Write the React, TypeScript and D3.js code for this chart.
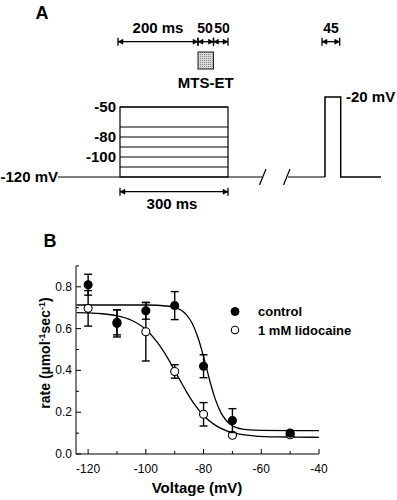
import React from "react";
import * as d3 from "d3";

// ---- panel B data ----
const voltages = [-120, -110, -100, -90, -80, -70, -50];
const controlRate = [0.81, 0.625, 0.685, 0.71, 0.42, 0.16, 0.1];
const controlErr = [0.05, 0.065, 0.04, 0.067, 0.055, 0.057, 0.012];
const lidoRate = [0.697, 0.63, 0.585, 0.395, 0.19, 0.09, 0.092];
const lidoErr = [0.085, 0.06, 0.14, 0.032, 0.056, 0.006, 0.008];

// fitted curves, points
const controlFitV = [-124, -100, -92, -88, -86, -84, -82, -80, -79, -78, -76, -74, -72, -70, -67, -64, -60, -50, -40];
const controlFitY = [0.713, 0.713, 0.707, 0.69, 0.667, 0.627, 0.56, 0.466, 0.413, 0.359, 0.265, 0.198, 0.158, 0.135, 0.12, 0.115, 0.113, 0.112, 0.112];
const lidoFitV = [-124, -120, -115, -110, -105, -100, -96, -92, -90, -89, -86, -83, -80, -76, -72, -68, -62, -55, -48, -40];
const lidoFitY = [0.676, 0.675, 0.671, 0.661, 0.64, 0.596, 0.534, 0.449, 0.399, 0.374, 0.3, 0.235, 0.184, 0.138, 0.111, 0.096, 0.086, 0.082, 0.081, 0.08];

const xTicks = [-120, -100, -80, -60, -40];
const xMinor = [-110, -90, -70, -50];
const yTicks = [0, 0.2, 0.4, 0.6, 0.8];
const yMinor = [0.1, 0.3, 0.5, 0.7, 0.9];

// ---- panel A protocol ----
const stepLevels = [-110, -100, -90, -80, -70, -50];
const stepLabels = [-50, -80, -100];
const segmentMs = [0, 200, 250, 300];
const segmentLabels = ["200 ms", "50", "50"];
const testPulseMs = [0, 45];

const FONT = "'Liberation Sans', Arial, sans-serif";

function DimArrow({ x1, x2, y }: { x1: number; x2: number; y: number }) {
  const h = 4;
  const aw = Math.min(5, (x2 - x1) / 2.5);
  return (
    <g stroke="#000" strokeWidth={1.3} fill="#000">
      <line x1={x1} x2={x2} y1={y} y2={y} />
      <line x1={x1} x2={x1} y1={y - h} y2={y + h} />
      <line x1={x2} x2={x2} y1={y - h} y2={y + h} />
      <path d={`M${x1},${y}L${x1 + aw},${y - 2.5}L${x1 + aw},${y + 2.5}Z`} strokeWidth={0.5} />
      <path d={`M${x2},${y}L${x2 - aw},${y - 2.5}L${x2 - aw},${y + 2.5}Z`} strokeWidth={0.5} />
    </g>
  );
}

function PanelA() {
  const t = d3.scaleLinear().domain(segmentMs).range([118, 198, 213.5, 228]);
  const tt = d3.scaleLinear().domain([0, 45]).range([325, 340.7]);
  const v = d3.scaleLinear().domain([-120, -50, -20]).range([177, 107, 97]);
  const base = v(-120);
  const bold = { fontFamily: FONT, fontWeight: 700, fontSize: 15 } as const;
  return (
    <g>
      <text x={42} y={19} style={{ ...bold, fontSize: 18 }} textAnchor="middle">A</text>
      {segmentMs.slice(1).map((ms, i) => (
        <g key={ms}>
          <DimArrow x1={t(segmentMs[i])} x2={t(ms)} y={41.7} />
          <text
            x={i === 0 ? 158 : i === 1 ? 205 : 222}
            y={33}
            textAnchor="middle"
            style={{ ...bold, fontSize: i === 0 ? 15 : 14 }}
          >
            {segmentLabels[i]}
          </text>
        </g>
      ))}
      <defs>
        <pattern id="dots" width={2} height={2} patternUnits="userSpaceOnUse">
          <rect width={2} height={2} fill="#d8d8d8" />
          <rect width={1} height={1} fill="#888" />
        </pattern>
      </defs>
      <rect x={t(200)} y={52} width={t(250) - t(200)} height={17} fill="url(#dots)" stroke="#222" strokeWidth={1} />
      <text x={t(225)} y={88} textAnchor="middle" style={bold}>MTS-ET</text>

      {/* conditioning steps */}
      <g stroke="#000" strokeWidth={1.2} fill="none">
        <rect x={t(0) + 2} y={v(-50)} width={t(300) - t(0) - 2} height={base - v(-50)} />
        {stepLevels.map((lv) => (
          <line key={lv} x1={t(0) + 2} x2={t(300)} y1={v(lv)} y2={v(lv)} />
        ))}
        <line x1={58} x2={262} y1={base} y2={base} />
        <line x1={288} x2={tt(0)} y1={base} y2={base} />
        <path d={`M${tt(0)},${base}V${v(-20)}H${tt(45)}V${base}H381`} strokeWidth={1.5} />
        <line x1={259.5} x2={266} y1={185} y2={169} />
        <line x1={283.5} x2={290} y1={185} y2={169} />
      </g>
      {stepLabels.map((lv) => (
        <text key={lv} x={116} y={v(lv) + 5} textAnchor="end" style={bold}>{lv}</text>
      ))}
      <text x={58} y={base + 5} textAnchor="end" style={bold}>-120 mV</text>
      <text x={346} y={v(-20) + 5} style={bold}>-20 mV</text>

      <DimArrow x1={tt(testPulseMs[0]) - 3} x2={tt(testPulseMs[1]) - 1} y={41.7} />
      <text x={331} y={33} textAnchor="middle" style={{ ...bold, fontSize: 14 }}>45</text>

      <DimArrow x1={t(0) + 2} x2={t(300)} y={191.7} />
      <text x={172} y={209} textAnchor="middle" style={bold}>300 ms</text>
    </g>
  );
}

function PanelB() {
  const x = d3.scaleLinear().domain([-124.2, -40]).range([76, 319]);
  const y = d3.scaleLinear().domain([0, 0.9]).range([454, 265.9]);
  const line = d3
    .line<[number, number]>()
    .x((d) => x(d[0]))
    .y((d) => y(d[1]))
    .curve(d3.curveMonotoneX);
  const ctrlFit = controlFitV.map((vv, i) => [vv, controlFitY[i]] as [number, number]);
  const lidoFit = lidoFitV.map((vv, i) => [vv, lidoFitY[i]] as [number, number]);
  const tickStyle = { fontFamily: FONT, fontSize: 12 } as const;
  const bold = { fontFamily: FONT, fontWeight: 700 } as const;
  const cap = 4;

  const series = [
    { rate: lidoRate, err: lidoErr, fill: "#fff" },
    { rate: controlRate, err: controlErr, fill: "#000" },
  ];

  return (
    <g>
      <text x={50} y={247} textAnchor="middle" style={{ ...bold, fontSize: 18 }}>B</text>
      {/* axes */}
      <g stroke="#000" strokeWidth={1}>
        <line x1={x.range()[0]} x2={x.range()[1]} y1={y(0)} y2={y(0)} />
        <line x1={x.range()[0]} x2={x.range()[0]} y1={y(0)} y2={y(0.9)} />
        {xTicks.map((tk) => (
          <line key={tk} x1={x(tk)} x2={x(tk)} y1={y(0)} y2={y(0) - 5} />
        ))}
        {xMinor.map((tk) => (
          <line key={tk} x1={x(tk)} x2={x(tk)} y1={y(0)} y2={y(0) - 3} />
        ))}
        {yTicks.map((tk) => (
          <line key={tk} x1={x.range()[0]} x2={x.range()[0] + 5} y1={y(tk)} y2={y(tk)} />
        ))}
        {yMinor.map((tk) => (
          <line key={tk} x1={x.range()[0]} x2={x.range()[0] + 3} y1={y(tk)} y2={y(tk)} />
        ))}
      </g>
      {xTicks.map((tk) => (
        <text key={tk} x={x(tk)} y={y(0) + 19} textAnchor="middle" style={tickStyle}>{tk}</text>
      ))}
      {yTicks.map((tk) => (
        <text key={tk} x={x.range()[0] - 4} y={y(tk) + 4} textAnchor="end" style={tickStyle}>{tk.toFixed(1)}</text>
      ))}
      <text x={197} y={493} textAnchor="middle" style={{ ...bold, fontSize: 15 }}>Voltage (mV)</text>
      <text
        transform={`translate(50,353) rotate(-90)`}
        textAnchor="middle"
        style={{ ...bold, fontSize: 14 }}
      >
        rate (µmol<tspan dy={-5} fontSize={9}>-1</tspan><tspan dy={5}>sec</tspan><tspan dy={-5} fontSize={9}>-1</tspan><tspan dy={5}>)</tspan>
      </text>

      {/* fits */}
      <path d={line(ctrlFit) || ""} fill="none" stroke="#000" strokeWidth={1.3} />
      <path d={line(lidoFit) || ""} fill="none" stroke="#000" strokeWidth={1.3} />

      {/* points with error bars */}
      {series.map((s, si) => (
        <g key={si}>
          {voltages.map((vv, i) => {
            const cx = x(vv);
            const lo = y(s.rate[i] - s.err[i]);
            const hi = y(s.rate[i] + s.err[i]);
            return (
              <g key={vv} stroke="#000" strokeWidth={1.4}>
                <line x1={cx} x2={cx} y1={lo} y2={hi} />
                <line x1={cx - cap} x2={cx + cap} y1={lo} y2={lo} />
                <line x1={cx - cap} x2={cx + cap} y1={hi} y2={hi} />
                <circle cx={cx} cy={y(s.rate[i])} r={4} fill={s.fill} strokeWidth={1.1} />
              </g>
            );
          })}
        </g>
      ))}

      {/* legend */}
      <circle cx={235} cy={311.5} r={4} fill="#000" stroke="#000" />
      <circle cx={235} cy={330} r={3.7} fill="#fff" stroke="#000" strokeWidth={1.1} />
      <text x={258} y={316} style={{ ...bold, fontSize: 13 }}>control</text>
      <text x={258} y={334.5} style={{ ...bold, fontSize: 13 }}>1 mM lidocaine</text>
    </g>
  );
}

export default function App() {
  return (
    <svg width={397} height={500} style={{ position: "absolute", left: 0, top: 0, background: "#fff" }}>
      <PanelA />
      <PanelB />
    </svg>
  );
}
